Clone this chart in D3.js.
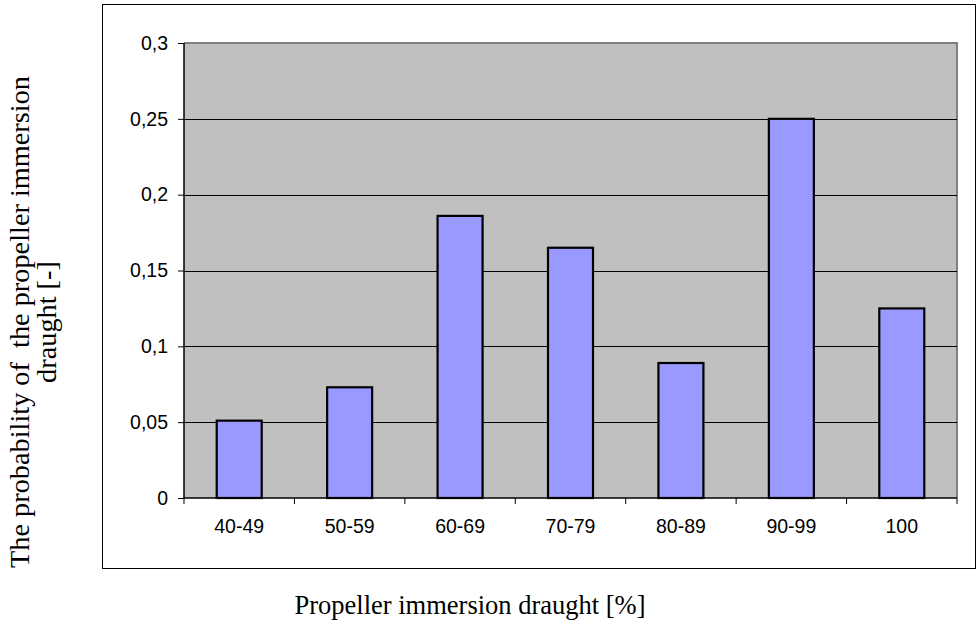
<!DOCTYPE html>
<html><head><meta charset="utf-8">
<script src="https://cdn.jsdelivr.net/npm/d3@7"></script>
<style>body{margin:0;background:#fff}svg{display:block}</style>
</head><body>
<svg id="c" width="978" height="630"></svg>
<script>
const categories = ["40-49","50-59","60-69","70-79","80-89","90-99","100"];
const values = [0.051, 0.073, 0.186, 0.165, 0.089, 0.25, 0.125];
const yTicks = [0, 0.05, 0.1, 0.15, 0.2, 0.25, 0.3];
const yTickLabels = ["0","0,05","0,1","0,15","0,2","0,25","0,3"];

const svg = d3.select("#c");
const L = 184, R = 957, T = 43, B = 498;
const xb = d3.scaleBand().domain(categories).range([L, R]);
const y = d3.scaleLinear().domain([0, 0.3]).range([B, T]);

// outer frame
svg.append("rect").attr("x",102.5).attr("y",4.5).attr("width",873).attr("height",564)
  .attr("fill","#fff").attr("stroke","#000").attr("stroke-width",1);

// plot area
svg.append("rect").attr("x",L).attr("y",T).attr("width",R-L).attr("height",B-T).attr("fill","#C0C0C0");
svg.append("path").attr("d",`M${L},${T} H${R} V${B}`).attr("fill","none").attr("stroke","#808080").attr("stroke-width",2);

// gridlines
svg.append("g").selectAll("line").data(yTicks.filter(d=>d>0 && d<0.3)).join("line")
  .attr("x1",L).attr("x2",R).attr("y1",d=>Math.round(y(d))+0.5).attr("y2",d=>Math.round(y(d))+0.5)
  .attr("stroke","#000").attr("stroke-width",1);

// bars
svg.append("g").selectAll("rect").data(values).join("rect")
  .attr("x",(d,i)=>xb(categories[i]) + xb.bandwidth()/2 - 22.5)
  .attr("width",45)
  .attr("y",d=>y(d)).attr("height",d=>B-y(d))
  .attr("fill","#9999FF").attr("stroke","#000").attr("stroke-width",2.2);

// y axis
const yAxis = d3.axisLeft(y).tickValues(yTicks).tickFormat((d,i)=>yTickLabels[i]).tickSize(6).tickPadding(10);
const gy = svg.append("g").attr("transform",`translate(${L},0)`).call(yAxis);
gy.select(".domain").attr("stroke","#000").attr("stroke-width",1.5).attr("d",`M0,${T}V${B}`);
gy.selectAll(".tick line").attr("stroke","#000");
gy.selectAll("text").attr("font-family","'Liberation Sans', Arial, sans-serif").attr("font-size",19.5).attr("fill","#000");

// x axis
const gx = svg.append("g").attr("transform",`translate(0,${B})`);
gx.append("line").attr("x1",L).attr("x2",R).attr("y1",0).attr("y2",0).attr("stroke","#000").attr("stroke-width",1.5);
const bounds = categories.map(c=>xb(c)).concat([R]);
gx.selectAll("line.t").data(bounds).join("line").attr("class","t")
  .attr("x1",d=>d).attr("x2",d=>d).attr("y1",0).attr("y2",6).attr("stroke","#000");
gx.selectAll("text").data(categories).join("text")
  .attr("x",d=>xb(d)+xb.bandwidth()/2).attr("y",35)
  .attr("text-anchor","middle")
  .attr("font-family","'Liberation Sans', Arial, sans-serif").attr("font-size",19.5).text(d=>d);

// axis titles
svg.append("text").attr("x",470).attr("y",614).attr("text-anchor","middle")
  .attr("font-family","'Liberation Serif','Times New Roman',serif").attr("font-size",26.5)
  .text("Propeller immersion draught [%]");
const yt = svg.append("text").attr("transform","translate(0,322) rotate(-90)").attr("text-anchor","middle")
  .attr("font-family","'Liberation Serif','Times New Roman',serif").attr("font-size",28.3)
  .style("white-space","pre");
yt.append("tspan").attr("x",0).attr("y",29).text("The probability of  the propeller immersion");
yt.append("tspan").attr("x",0).attr("y",56).text("draught [-]");
</script>
</body></html>
